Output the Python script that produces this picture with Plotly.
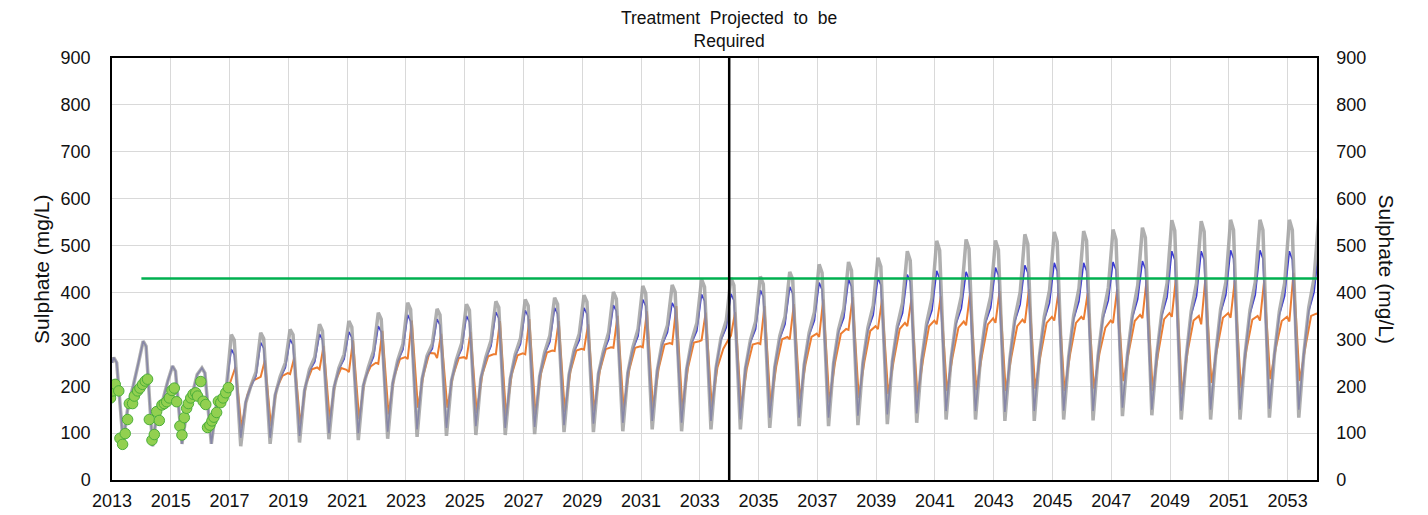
import plotly.graph_objects as go

# decimal years for each modelled cycle (2013-2016 is the calibration period)
years = list(range(2013, 2054))
years_orange = list(range(2017, 2054))

# where in each year the key points of a cycle fall
offsets_gb = [0.06, 0.16, 0.38, 0.55, 0.72, 0.90]
offsets_or = [0.20, 0.41, 0.60, 0.80, 0.98, 1.06]

# upper bound (grey)
gray_start = 250
gray_peak = [261, 296, 243, 239, 310, 314, 321, 332, 339, 357, 378, 365, 375, 381, 385, 389, 394, 401, 414, 416, 428,
             431, 434, 444, 460, 465, 474, 488, 510, 513, 511, 524, 529, 531, 534, 538, 554, 552, 555, 555, 555]
gray_after = [250, 285, 232, 228, 298, 302, 310, 318, 326, 343, 364, 352, 362, 368, 372, 375, 380, 386, 398, 401, 412,
              415, 418, 428, 442, 447, 455, 468, 490, 493, 491, 503, 508, 510, 513, 517, 532, 530, 533, 533, 533]
gray_trough = [80, 72, 77, 77, 72, 77, 80, 87, 85, 88, 92, 94, 96, 96, 98, 102, 102, 104, 108, 104, 108,
               108, 111, 115, 115, 117, 119, 122, 129, 129, 126, 126, 129, 127, 136, 138, 129, 129, 129, 133, 133]
gray_kink = [160, 155, 150, 160, 165, 180, 190, 195, 200, 205, 215, 211, 216, 215, 220, 224, 226, 228, 232, 235, 238,
             236, 240, 245, 248, 250, 252, 255, 258, 260, 258, 262, 262, 264, 266, 268, 262, 265, 266, 266, 268]
gray_shoulder = [200, 168, 180, 178, 200, 220, 236, 239, 240, 255, 265, 257, 262, 268, 272, 277, 275, 282, 293, 296, 303,
                 298, 307, 314, 321, 325, 328, 335, 340, 342, 345, 348, 350, 352, 353, 358, 360, 364, 362, 360, 368]
gray_pre = [250, 211, 225, 202, 230, 250, 262, 268, 275, 290, 290, 292, 298, 302, 308, 312, 315, 322, 330, 335, 340,
            338, 348, 358, 365, 372, 378, 388, 392, 392, 400, 405, 408, 410, 415, 420, 420, 422, 422, 420, 430]
gray_end = 560

# median (blue)
blue_peak = [261, 296, 243, 239, 279, 293, 300, 311, 316, 328, 352, 343, 350, 358, 362, 367, 367, 373, 385, 378, 396,
             397, 405, 412, 421, 428, 431, 438, 446, 444, 453, 458, 463, 463, 465, 467, 488, 488, 490, 490, 488]
blue_after = [250, 285, 232, 228, 267, 281, 288, 299, 304, 316, 338, 330, 337, 345, 349, 354, 354, 360, 371, 365, 382,
              383, 391, 398, 406, 413, 416, 423, 430, 428, 437, 442, 446, 446, 448, 450, 470, 470, 472, 472, 470]
blue_trough = [80, 72, 77, 77, 90, 90, 94, 100, 100, 103, 108, 111, 115, 111, 113, 117, 120, 122, 126, 122, 126,
               129, 133, 133, 133, 137, 140, 142, 147, 147, 145, 147, 148, 147, 154, 150, 148, 150, 150, 152, 150]
blue_kink = [160, 155, 150, 160, 168, 183, 193, 198, 203, 208, 218, 214, 219, 218, 223, 227, 229, 231, 235, 238, 241,
             239, 243, 248, 251, 253, 255, 258, 261, 263, 261, 265, 265, 267, 269, 271, 265, 268, 269, 269, 271]
blue_shoulder = [200, 168, 180, 178, 198, 216, 232, 236, 236, 252, 262, 254, 258, 264, 268, 273, 271, 278, 288, 291, 298,
                 293, 301, 308, 315, 319, 322, 328, 333, 335, 338, 341, 343, 345, 346, 350, 352, 356, 354, 352, 360]
blue_pre = [250, 211, 225, 202, 222, 240, 252, 258, 263, 278, 280, 280, 286, 290, 295, 298, 300, 307, 315, 318, 325,
            322, 332, 340, 346, 352, 356, 362, 366, 368, 374, 378, 381, 383, 386, 390, 392, 395, 395, 393, 400]
blue_end = 492

# alternative scenario (orange), from 2017
orange_start = (2016.98, 200)
orange_peak = [241, 255, 261, 286, 298, 318, 340, 312, 316, 339, 343, 339, 332, 350, 360, 371, 357, 358, 371,
               375, 385, 390, 385, 385, 392, 401, 403, 407, 399, 399, 407, 426, 431, 428, 424, 424, 442]
orange_trough = [111, 115, 119, 129, 130, 140, 154, 154, 143, 136, 140, 145, 148, 150, 152, 150, 155, 154, 158,
                 172, 165, 175, 183, 176, 190, 192, 190, 195, 190, 195, 211, 190, 183, 207, 197, 215, 211]
orange_kink = [180, 195, 205, 210, 215, 220, 225, 222, 225, 225, 228, 232, 233, 235, 238, 240, 240, 238, 242,
               248, 250, 252, 255, 258, 262, 265, 262, 268, 268, 270, 275, 272, 275, 280, 278, 282, 282]
orange_shoulder = [212, 222, 236, 239, 242, 258, 271, 260, 264, 266, 272, 276, 279, 282, 289, 293, 280, 289, 300,
                   305, 312, 318, 322, 328, 325, 332, 328, 335, 335, 325, 339, 343, 340, 346, 342, 339, 350]
orange_pre = [218, 228, 240, 235, 250, 262, 270, 262, 268, 270, 276, 280, 283, 285, 292, 296, 300, 292, 305,
              312, 322, 328, 335, 340, 338, 345, 342, 348, 348, 340, 352, 356, 350, 356, 350, 348, 355]
orange_dip = [220, 226, 236, 230, 248, 258, 260, 258, 268, 268, 275, 278, 282, 283, 290, 298, 308, 290, 300,
              305, 320, 322, 328, 332, 330, 335, 335, 340, 342, 335, 345, 348, 332, 346, 340, 338, 352]

# observed sulphate
obs_year = [2012.95, 2013.02, 2013.11, 2013.23, 2013.27, 2013.36, 2013.45, 2013.53, 2013.59, 2013.70, 2013.76,
            2013.87, 2013.95, 2014.04, 2014.13, 2014.21, 2014.27, 2014.36, 2014.44, 2014.52, 2014.61, 2014.70,
            2014.78, 2014.86, 2014.95, 2015.04, 2015.12, 2015.20, 2015.31, 2015.38, 2015.46, 2015.54, 2015.60,
            2015.68, 2015.76, 2015.85, 2015.91, 2016.02, 2016.10, 2016.19, 2016.25, 2016.33, 2016.40, 2016.47,
            2016.56, 2016.62, 2016.70, 2016.78, 2016.87, 2016.96]
obs_value = [175, 190, 204, 190, 89, 76, 99, 129, 163, 163, 179, 190, 196, 204, 211, 215, 129, 85, 97, 146,
             127, 160, 163, 167, 175, 191, 196, 167, 115, 96, 133, 153, 163, 175, 183, 186, 179, 210, 168, 161,
             112, 117, 126, 134, 144, 168, 165, 175, 186, 197]

objective = 430
objective_start = 2014
treatment_year = 2034
x_end = 2054


def build(yrs, offsets, columns):
    xs, ys = [], []
    for i, yr in enumerate(yrs):
        for off, col in zip(offsets, columns):
            xs.append(yr + off)
            ys.append(col[i])
    return xs, ys


gx, gy = build(years, offsets_gb, [gray_peak, gray_after, gray_trough, gray_kink, gray_shoulder, gray_pre])
gx = [years[0]] + gx + [x_end + offsets_gb[0]]
gy = [gray_start] + gy + [gray_end]

bx, by = build(years, offsets_gb, [blue_peak, blue_after, blue_trough, blue_kink, blue_shoulder, blue_pre])
bx = [years[0]] + bx + [x_end + offsets_gb[0]]
by = [gray_start] + by + [blue_end]

ox, oy = build(years_orange, offsets_or,
               [orange_peak, orange_trough, orange_kink, orange_shoulder, orange_pre, orange_dip])
ox = [orange_start[0]] + ox
oy = [orange_start[1]] + oy

font = "Arial, Liberation Sans, sans-serif"

fig = go.Figure()
fig.add_trace(go.Scatter(x=ox, y=oy, mode="lines", line=dict(color="#ed7d31", width=2)))
fig.add_trace(go.Scatter(x=bx, y=by, mode="lines", line=dict(color="#3a3ad4", width=1.6)))
fig.add_trace(go.Scatter(x=gx, y=gy, mode="lines", line=dict(color="rgba(155,155,155,0.8)", width=3.5)))
fig.add_trace(go.Scatter(x=[objective_start, x_end], y=[objective, objective], mode="lines",
                         line=dict(color="#00b050", width=2.5), yaxis="y2"))
fig.add_trace(go.Scatter(x=obs_year, y=obs_value, mode="markers",
                         marker=dict(size=10.5, color="#92d050", line=dict(color="#4caf3a", width=1))))

# treatment line
fig.add_shape(type="line", x0=treatment_year, x1=treatment_year, y0=0, y1=1, xref="x", yref="paper",
              line=dict(color="black", width=2.5))
fig.add_annotation(x=treatment_year, y=1, xref="x", yref="paper", yanchor="bottom", yshift=5, showarrow=False,
                   text="Treatment  Projected  to  be<br>Required", font=dict(size=17.5, color="#111", family=font))

fig.add_annotation(x=-0.059, y=0.5, xref="paper", yref="paper", xanchor="center", yanchor="middle",
                   showarrow=False, textangle=-90,
                   text="Sulphate (mg/L)", font=dict(size=21, color="#111", family=font))
fig.add_annotation(x=1.0585, y=0.5, xref="paper", yref="paper", xanchor="center", yanchor="middle",
                   showarrow=False, textangle=90,
                   text="Sulphate (mg/L)", font=dict(size=21, color="#111", family=font))

axis_common = dict(range=[0, 900], dtick=100, tickfont=dict(size=18, color="#111", family=font),
                   linecolor="black", linewidth=1.5, zeroline=False)
fig.update_layout(
    width=1428, height=515,
    margin=dict(l=104, r=119, t=50, b=36),
    plot_bgcolor="white", paper_bgcolor="white",
    showlegend=False,
    xaxis=dict(range=[2013, x_end], tick0=2013, dtick=2, showgrid=True, gridcolor="#d9d9d9", gridwidth=1,
               tickfont=dict(size=18, color="#111", family=font), linecolor="black", linewidth=1.5,
               mirror=True, zeroline=False, ticklabelstandoff=4),
    yaxis=dict(showgrid=True, gridcolor="#d9d9d9", gridwidth=1, mirror=True, ticklabelstandoff=16,
               **axis_common),
    yaxis2=dict(overlaying="y", side="right", showgrid=False, ticklabelstandoff=14, **axis_common),
)

fig.write_html("out.html")
